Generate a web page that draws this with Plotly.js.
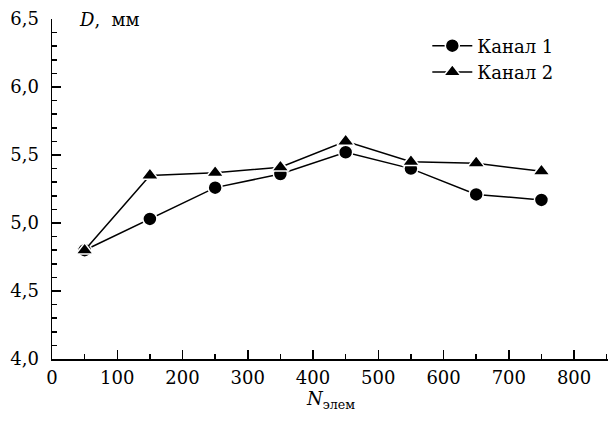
<!DOCTYPE html>
<html>
<head>
<meta charset="utf-8">
<script src="https://cdn.plot.ly/plotly-3.0.1.min.js"></script>
<style>html,body{margin:0;padding:0;background:#fff;}#chart{width:608px;height:426px;}</style>
</head>
<body>
<div id="chart"></div>
<script>
const xVals = [50, 150, 250, 350, 450, 550, 650, 750];
const kanal1 = [4.80, 5.03, 5.26, 5.36, 5.52, 5.40, 5.21, 5.17];
const kanal2 = [4.80, 5.35, 5.37, 5.41, 5.60, 5.45, 5.44, 5.38];
const seriesNames = ["Канал 1", "Канал 2"];
const yTickVals = [4.0, 4.5, 5.0, 5.5, 6.0, 6.5];
const xTickVals = [0, 100, 200, 300, 400, 500, 600, 700, 800];

const fontFam = "DejaVu Serif";
const fs = 18;

const traces = [
  {x: xVals, y: kanal1, name: seriesNames[0], type: "scatter", mode: "lines+markers",
   line: {color: "#000", width: 1.5},
   marker: {symbol: "circle", size: 14, color: "#000", line: {color: "#fff", width: 1.5}}},
  {x: xVals, y: kanal2, name: seriesNames[1], type: "scatter", mode: "lines+markers",
   line: {color: "#000", width: 1.5},
   marker: {symbol: "triangle-up", size: 15, color: "#000", line: {color: "#fff", width: 1.5}}}
];

const layout = {
  width: 608, height: 426,
  margin: {l: 52, r: 0, t: 19, b: 67, pad: 0},
  paper_bgcolor: "#fff", plot_bgcolor: "#fff",
  separators: ", ",
  font: {family: fontFam, size: fs, color: "#000"},
  showlegend: true,
  legend: {x: 0.675, y: 0.975, xanchor: "left", yanchor: "top", bgcolor: "rgba(0,0,0,0)",
           font: {family: fontFam, size: fs, color: "#000"}, tracegroupgap: 0, itemwidth: 40},
  xaxis: {range: [0, 852], showgrid: false, zeroline: false, showline: true, linecolor: "#000", linewidth: 1.5,
          tickvals: xTickVals, ticks: "inside", ticklen: 9, tickwidth: 1.5, tickcolor: "#000",
          ticklabelstandoff: 2,
          minor: {dtick: 50, tick0: 0, ticks: "inside", ticklen: 5, tickwidth: 1.5, tickcolor: "#000", showgrid: false},
          tickfont: {family: fontFam, size: fs}},
  yaxis: {range: [4, 6.5], showgrid: false, zeroline: false, showline: true, linecolor: "#000", linewidth: 1.5,
          tickvals: yTickVals, tickformat: ".1f", ticks: "inside", ticklen: 9, tickwidth: 1.5, tickcolor: "#000",
          ticklabelstandoff: 8,
          minor: {dtick: 0.1, tick0: 0, ticks: "inside", ticklen: 5, tickwidth: 1.5, tickcolor: "#000", showgrid: false},
          tickfont: {family: fontFam, size: fs}},
  annotations: [
    {text: "<i>D</i>,  мм", xref: "paper", yref: "paper", x: 0.045, y: 1.0, xanchor: "left", yanchor: "middle",
     showarrow: false, font: {family: fontFam, size: fs, color: "#000"}},
    {text: "<i>N</i><sub>элем</sub>", xref: "paper", yref: "paper", x: 0.5, y: -0.08, xanchor: "center", yanchor: "top",
     showarrow: false, font: {family: fontFam, size: fs, color: "#000"}}
  ]
};

Plotly.newPlot("chart", traces, layout, {displayModeBar: false, staticPlot: true});
</script>
</body>
</html>
